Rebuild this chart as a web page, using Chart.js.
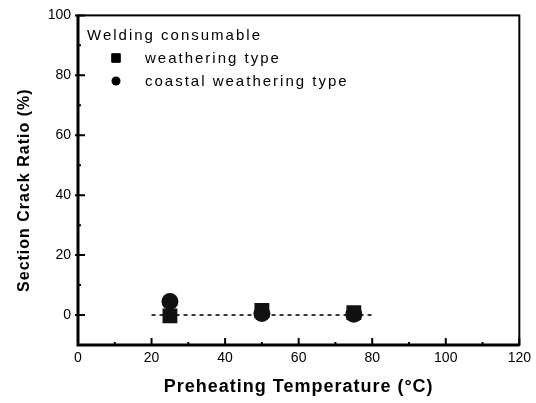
<!DOCTYPE html>
<html><head><meta charset="utf-8">
<script src="https://cdn.jsdelivr.net/npm/chart.js@4/dist/chart.umd.min.js"></script>
<style>html,body{margin:0;padding:0;background:#fff}#wrap{width:536px;height:403px}</style>
</head><body><div id="wrap"><canvas id="c" width="536" height="403"></canvas></div>
<script>
const temperatures = [25, 50, 75];
const weatheringType = [-0.3, 1.5, 0.8];
const coastalWeatheringType = [4.5, 0.5, 0.3];
const fitLineX = [20, 80];
const fitLineY = [0, 0];
const xTicks = [0, 20, 40, 60, 80, 100, 120];
const yTicks = [0, 20, 40, 60, 80, 100];
const xMinorTicks = [10, 30, 50, 70, 90, 110];
const yMinorTicks = [10, 30, 50, 70, 90];
const legendTitle = 'Welding consumable';
const seriesNames = ['weathering type', 'coastal weathering type'];
const xTitle = 'Preheating Temperature (°C)';
const yTitle = 'Section Crack Ratio (%)';

const FONT = '"Liberation Sans", Arial, sans-serif';

const decor = {
  id: 'decor',
  afterDatasetsDraw(chart) {
    const ctx = chart.ctx, a = chart.chartArea;
    const xs = chart.scales.x, ys = chart.scales.y;
    ctx.save();
    ctx.strokeStyle = '#000';
    ctx.lineWidth = 2;
    ctx.strokeRect(a.left, a.top, a.right - a.left, a.bottom - a.top);
    ctx.lineWidth = 3;
    ctx.beginPath();
    ctx.moveTo(a.left, a.top); ctx.lineTo(a.left, a.bottom); ctx.lineTo(a.right, a.bottom);
    ctx.stroke();
    ctx.lineWidth = 2;
    ctx.beginPath();
    xTicks.forEach(v => { const p = xs.getPixelForValue(v); ctx.moveTo(p, a.bottom); ctx.lineTo(p, a.bottom - 7); });
    xMinorTicks.forEach(v => { const p = xs.getPixelForValue(v); ctx.moveTo(p, a.bottom); ctx.lineTo(p, a.bottom - 3); });
    yTicks.forEach(v => { const p = ys.getPixelForValue(v); ctx.moveTo(a.left - 3, p); ctx.lineTo(a.left + 7, p); });
    yMinorTicks.forEach(v => { const p = ys.getPixelForValue(v); ctx.moveTo(a.left, p); ctx.lineTo(a.left + 3, p); });
    ctx.stroke();
    ctx.restore();
  },
  afterDraw(chart) {
    const ctx = chart.ctx, a = chart.chartArea;
    ctx.save();
    ctx.fillStyle = '#000';
    ctx.font = 'bold 18px ' + FONT;
    ctx.letterSpacing = '1px';
    ctx.textAlign = 'center';
    ctx.textBaseline = 'middle';
    ctx.fillText(xTitle, (a.left + a.right) / 2, 387);
    ctx.save();
    ctx.translate(25, (a.top + a.bottom) / 2 + 10);
    ctx.rotate(-Math.PI / 2);
    ctx.font = 'bold 16px ' + FONT;
    ctx.fillText(yTitle, 0, 0);
    ctx.restore();
    ctx.font = '15px ' + FONT;
    ctx.letterSpacing = '2px';
    ctx.textAlign = 'left';
    ctx.textBaseline = 'alphabetic';
    ctx.fillText(legendTitle, a.left + 9, 40);
    ctx.fillText(seriesNames[0], a.left + 67, 63);
    ctx.fillText(seriesNames[1], a.left + 67, 86);
    Chart.helpers.drawPoint(ctx, { pointStyle: 'rect', radius: 6, borderWidth: 1 }, a.left + 38, 58);
    ctx.fill();
    ctx.beginPath();
    ctx.arc(a.left + 38, 81, 4.5, 0, Math.PI * 2);
    ctx.fill();
    ctx.restore();
  }
};

new Chart(document.getElementById('c'), {
  type: 'scatter',
  data: {
    datasets: [
      {
        label: seriesNames[0],
        data: temperatures.map((t, i) => ({ x: t, y: weatheringType[i] })),
        pointStyle: 'rect', pointRadius: 10.5, pointHoverRadius: 10.5,
        backgroundColor: '#111', borderColor: '#111', borderWidth: 0, order: 0
      },
      {
        label: seriesNames[1],
        data: temperatures.map((t, i) => ({ x: t, y: coastalWeatheringType[i] })),
        pointStyle: 'circle', pointRadius: 8.5, pointHoverRadius: 8.5,
        backgroundColor: '#111', borderColor: '#111', borderWidth: 0, order: 1
      },
      {
        label: 'fit',
        data: fitLineX.map((x, i) => ({ x: x, y: fitLineY[i] })),
        showLine: true, pointRadius: 0, borderColor: '#222', borderWidth: 1.8,
        borderDash: [4, 4], order: 2
      }
    ]
  },
  options: {
    responsive: false, animation: false, devicePixelRatio: 1,
    layout: { padding: { top: 12, right: 14, left: 0, bottom: 0 } },
    plugins: { legend: { display: false }, tooltip: { enabled: false } },
    scales: {
      x: {
        type: 'linear', min: 0, max: 120,
        afterBuildTicks: s => { s.ticks = xTicks.map(v => ({ value: v })); },
        afterFit: s => { s.height = 58; },
        grid: { display: false, drawTicks: false },
        border: { display: false },
        ticks: { color: '#000', padding: 5, font: { family: FONT, size: 14 } }
      },
      y: {
        type: 'linear', min: -10, max: 100,
        afterBuildTicks: s => { s.ticks = yTicks.map(v => ({ value: v })); },
        afterFit: s => { s.width = 78; },
        grid: { display: false, drawTicks: false },
        border: { display: false },
        ticks: { color: '#000', padding: 7, font: { family: FONT, size: 14 } }
      }
    }
  },
  plugins: [decor]
});
</script>
</body></html>
